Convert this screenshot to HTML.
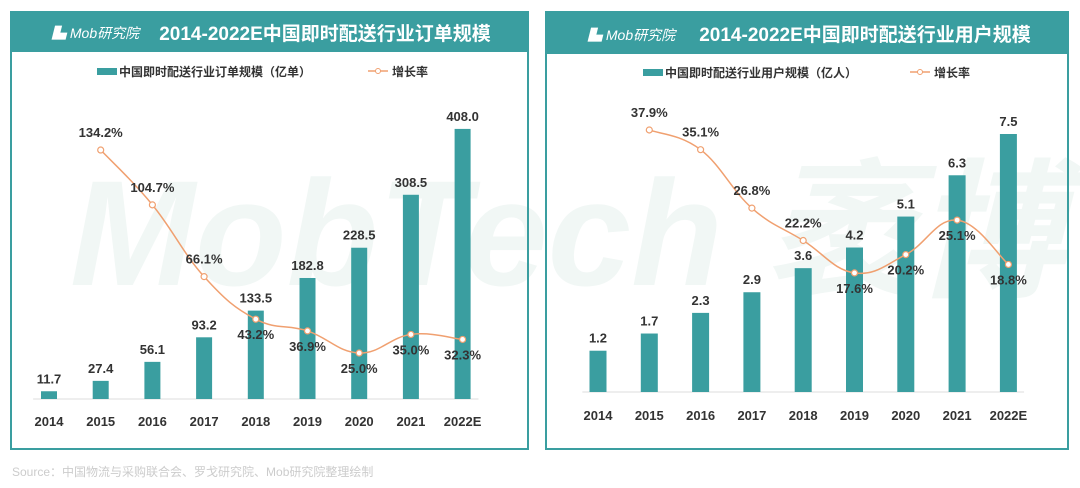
<!DOCTYPE html>
<html><head><meta charset="utf-8"><style>
body{margin:0;width:1080px;height:488px;background:#fff;overflow:hidden;font-family:"Liberation Sans","Noto Sans CJK SC",sans-serif}
svg{position:absolute;left:0;top:0}
</style></head><body>
<svg id="s" width="1080" height="488" xmlns="http://www.w3.org/2000/svg" font-family="Liberation Sans, Noto Sans CJK SC, sans-serif">
<text x="70" y="285" font-size="150" font-style="italic" font-weight="bold" fill="#f1f7f5">MobTech 袤博</text>
<rect x="11" y="12" width="517" height="437" fill="none" stroke="#3a9ea0" stroke-width="2"/>
<rect x="11" y="12" width="517" height="40" fill="#3a9ea0"/>
<text x="52" y="38" font-size="14" font-style="italic" fill="#fff">▙ Mob研究院</text>
<text x="325" y="40" font-size="19" font-weight="bold" fill="#fff" text-anchor="middle">2014-2022E中国即时配送行业订单规模</text>
<rect x="97" y="68" width="20" height="7" fill="#3a9ea0"/>
<text x="119" y="76" font-size="12" font-weight="bold" fill="#333">中国即时配送行业订单规模（亿单）</text>
<line x1="368" y1="71" x2="388" y2="71" stroke="#f0a070" stroke-width="1.5"/><circle cx="378" cy="71" r="2.5" fill="#fff" stroke="#f0a070"/>
<text x="392" y="76" font-size="12" font-weight="bold" fill="#333">增长率</text>
<rect x="546" y="12" width="522" height="437" fill="none" stroke="#3a9ea0" stroke-width="2"/>
<rect x="546" y="12" width="522" height="42" fill="#3a9ea0"/>
<text x="588" y="40" font-size="14" font-style="italic" fill="#fff">▙ Mob研究院</text>
<text x="865" y="41" font-size="19" font-weight="bold" fill="#fff" text-anchor="middle">2014-2022E中国即时配送行业用户规模</text>
<rect x="643" y="69" width="20" height="7" fill="#3a9ea0"/>
<text x="665" y="77" font-size="12" font-weight="bold" fill="#333">中国即时配送行业用户规模（亿人）</text>
<line x1="910" y1="72" x2="930" y2="72" stroke="#f0a070" stroke-width="1.5"/><circle cx="920" cy="72" r="2.5" fill="#fff" stroke="#f0a070"/>
<text x="934" y="77" font-size="12" font-weight="bold" fill="#333">增长率</text>
<text x="12" y="476" font-size="12" fill="#ccc">Source：中国物流与采购联合会、罗戈研究院、Mob研究院整理绘制</text>
</svg>
<script>
const years=["2014","2015","2016","2017","2018","2019","2020","2021","2022E"];
const ordersValues=[11.7,27.4,56.1,93.2,133.5,182.8,228.5,308.5,408.0];
const ordersGrowth=[null,134.2,104.7,66.1,43.2,36.9,25.0,35.0,32.3];
const usersValues=[1.2,1.7,2.3,2.9,3.6,4.2,5.1,6.3,7.5];
const usersGrowth=[null,37.9,35.1,26.8,22.2,17.6,20.2,25.1,18.8];
const ordersLabelBelow=[0,0,0,0,1,1,1,1,1];
const usersLabelBelow=[0,0,0,0,0,1,1,1,1];
const svg=document.getElementById('s');
const NS='http://www.w3.org/2000/svg';
function mk(tag,attrs,parent){const e=document.createElementNS(NS,tag);for(const k in attrs)e.setAttribute(k,attrs[k]);(parent||svg).appendChild(e);return e;}
function smooth(pts){let d='M'+pts[0][0]+','+pts[0][1];for(let i=0;i<pts.length-1;i++){const p0=pts[i-1]||pts[i],p1=pts[i],p2=pts[i+1],p3=pts[i+2]||p2;const t=0.2;d+=' C'+(p1[0]+(p2[0]-p0[0])*t)+','+(p1[1]+(p2[1]-p0[1])*t)+' '+(p2[0]-(p3[0]-p1[0])*t)+','+(p2[1]-(p3[1]-p1[1])*t)+' '+p2[0]+','+p2[1];}return d;}
function drawChart(cfg){
  const xS=i=>cfg.x0+i*cfg.step;
  const yB=v=>cfg.base-v*cfg.barK;
  const yL=v=>cfg.lineBase-v*cfg.lineK;
  const ax=mk('line',{x1:cfg.x0-cfg.step/2+10,x2:xS(8)+cfg.step/2-10,y1:cfg.base,y2:cfg.base,stroke:'#ddd'});
  
  
  cfg.vals.forEach((v,i)=>{
    const r=mk('rect',{x:xS(i)-cfg.bw/2,y:yB(v),width:cfg.bw,height:cfg.base-yB(v),fill:'#3a9ea0'});
    
    
    const t=mk('text',{x:xS(i),y:yB(v)-8,'text-anchor':'middle','font-size':13,'font-weight':'bold',fill:'#333'});t.textContent=v.toFixed(1);
    
    
    const y=mk('text',{x:xS(i),y:cfg.base+cfg.tickOff,'text-anchor':'middle','font-size':13,'font-weight':'bold',fill:'#333'});y.textContent=years[i];
    
    
  });
  const pts=[];cfg.growth.forEach((g,i)=>{if(g!=null)pts.push([xS(i),yL(g),g,i]);});
  const path=mk('path',{d:smooth(pts),fill:'none',stroke:'#f0a070','stroke-width':1.5});
  
  
  pts.forEach(p=>{
    const c=mk('circle',{cx:p[0],cy:p[1],r:3,fill:'#fff',stroke:'#f0a070','stroke-width':1.2});
    
    
    const below=cfg.below[p[3]];
    const t=mk('text',{x:p[0],y:below?p[1]+20:p[1]-13,'text-anchor':'middle','font-size':13,'font-weight':'bold',fill:'#333'});t.textContent=p[2].toFixed(1)+'%';
    
    
  });
}
drawChart({p:'orders',vals:ordersValues,growth:ordersGrowth,below:ordersLabelBelow,x0:49,step:51.7,bw:16,base:399,barK:0.662,lineBase:399.5,lineK:1.859,tickOff:27});
drawChart({p:'users',vals:usersValues,growth:usersGrowth,below:usersLabelBelow,x0:598,step:51.3,bw:17,base:392,barK:34.4,lineBase:396.8,lineK:7.04,tickOff:28});
</script>
</body></html>
